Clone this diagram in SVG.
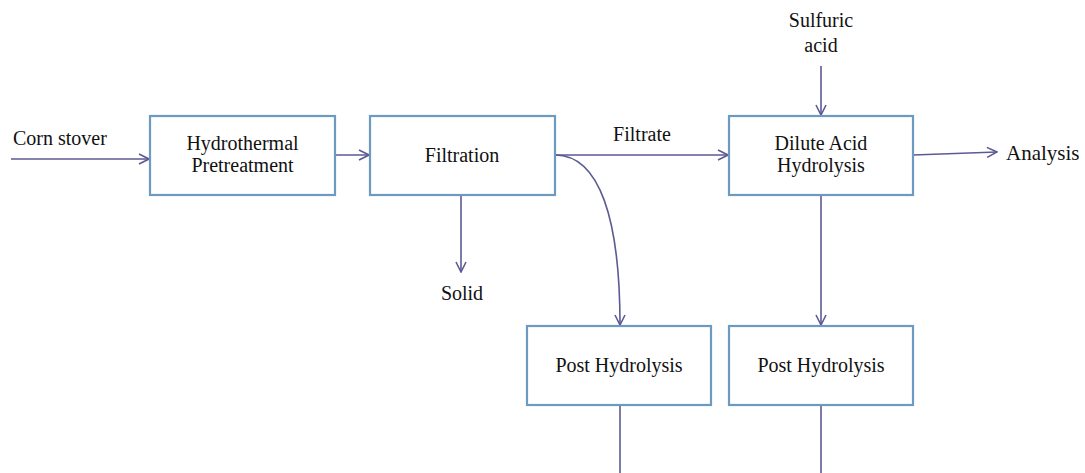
<svg xmlns="http://www.w3.org/2000/svg" width="1085" height="473" viewBox="0 0 1085 473">
<style>
.box{fill:#fff;stroke:#6C9AC0;stroke-width:2.2}
text{font-family:'Liberation Serif', 'Times New Roman', serif;font-size:20px;fill:#111;text-anchor:middle}
.c{fill:none;stroke:#5C5A93;stroke-width:1.6}
</style>
<defs>
<marker id="a" viewBox="0 0 12 12" refX="11" refY="6" markerWidth="12" markerHeight="12" markerUnits="userSpaceOnUse" orient="auto">
<path d="M1,1 L11,6 L1,11" fill="none" stroke="#5C5A93" stroke-width="1.6"/>
</marker>
</defs>
<rect width="1085" height="473" fill="#fff"/>
<g id="connectors">
<line class="c" x1="11" y1="159" x2="149" y2="159" marker-end="url(#a)"/>
<line class="c" x1="335" y1="155" x2="369" y2="155" marker-end="url(#a)"/>
<line class="c" x1="555" y1="155" x2="728" y2="155" marker-end="url(#a)"/>
<path class="c" d="M555,155 C600,155 620,220 620,325" marker-end="url(#a)"/>
<line class="c" x1="461" y1="195" x2="461" y2="272" marker-end="url(#a)"/>
<line class="c" x1="821" y1="66" x2="821" y2="115" marker-end="url(#a)"/>
<line class="c" x1="913" y1="155" x2="997" y2="152" marker-end="url(#a)"/>
<line class="c" x1="821" y1="195" x2="821" y2="325" marker-end="url(#a)"/>
<line class="c" x1="620" y1="405" x2="620" y2="473"/>
<line class="c" x1="821" y1="405" x2="821" y2="473"/>
</g>
<g id="labels">
<text x="13" y="145" style="text-anchor:start">Corn stover</text>
<text x="642" y="141">Filtrate</text>
<text x="462" y="300">Solid</text>
<text x="821" y="27">Sulfuric</text>
<text x="821" y="52">acid</text>
<text x="1006" y="160" style="text-anchor:start;font-size:21px">Analysis</text>
</g>
<g id="hydrothermal">
<rect class="box" x="150" y="116" width="185" height="79"/>
<text x="242.5" y="150">Hydrothermal</text>
<text x="242.5" y="172">Pretreatment</text>
</g>
<g id="filtration">
<rect class="box" x="370" y="116" width="185" height="79"/>
<text x="462" y="162">Filtration</text>
</g>
<g id="dilute">
<rect class="box" x="729" y="116" width="184" height="79"/>
<text x="821" y="150">Dilute Acid</text>
<text x="821" y="172">Hydrolysis</text>
</g>
<g id="post1">
<rect class="box" x="527" y="326" width="184" height="79"/>
<text x="619" y="372">Post Hydrolysis</text>
</g>
<g id="post2">
<rect class="box" x="729" y="326" width="184" height="79"/>
<text x="821" y="372">Post Hydrolysis</text>
</g>
</svg>
